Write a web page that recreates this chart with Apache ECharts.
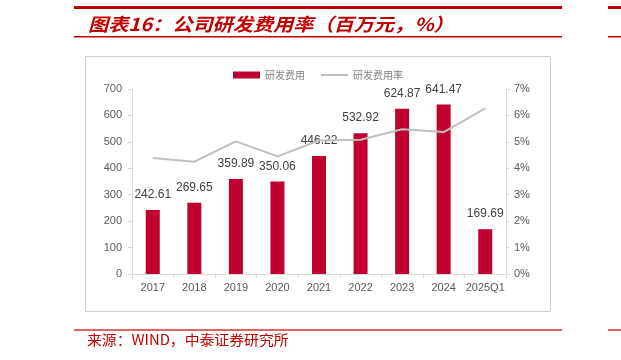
<!DOCTYPE html>
<html><head><meta charset="utf-8">
<script src="https://cdn.jsdelivr.net/npm/echarts@6/dist/echarts.min.js"></script>
<style>html,body{margin:0;padding:0;background:#fff}#c{width:621px;height:360px}</style>
</head><body><div id="c"></div>
<script>
const categories = ['2017','2018','2019','2020','2021','2022','2023','2024','2025Q1'];
const rdExpense = [242.61, 269.65, 359.89, 350.06, 446.22, 532.92, 624.87, 641.47, 169.69];
const rdRate = [4.39, 4.25, 5.02, 4.45, 5.05, 5.08, 5.48, 5.37, 6.27];
const leftTicks = [0, 700, 100];
const rightTicks = [0, 7, 1];
const titleText = '图表16：公司研发费用率（百万元，%）';
const sourceText = '来源：WIND，中泰证券研究所';

const chart = echarts.init(document.getElementById('c'), null, {renderer:'canvas'});
const red = '#C00000';
const axisLabel = {color:'#595959', fontSize:11, fontFamily:'Liberation Sans, Arial'};
chart.setOption({
  animation:false,
  backgroundColor:'#fff',
  grid:{left:132, right:115, top:89, bottom:86},
  legend:{
    left:228, top:65, itemGap:16, itemWidth:27, itemHeight:7,
    textStyle:{color:'#7f7f7f', fontSize:10, fontFamily:'Noto Sans CJK SC'},
    data:[{name:'研发费用', icon:'rect'}, {name:'研发费用率', icon:'path://M0,0L27,0L27,2L0,2Z'}]
  },
  xAxis:{
    type:'category', data:categories,
    axisLine:{lineStyle:{color:'#d9d9d9'}},
    axisTick:{show:true, length:4, lineStyle:{color:'#d9d9d9'}},
    axisLabel:Object.assign({margin:8, interval:0}, axisLabel)
  },
  yAxis:[{
    type:'value', min:leftTicks[0], max:leftTicks[1], interval:leftTicks[2],
    splitLine:{show:false},
    axisLine:{show:true, lineStyle:{color:'#d9d9d9'}},
    axisTick:{show:true, length:4, lineStyle:{color:'#d9d9d9'}},
    axisLabel:Object.assign({margin:10}, axisLabel)
  },{
    type:'value', min:rightTicks[0], max:rightTicks[1], interval:rightTicks[2],
    splitLine:{show:false},
    axisLine:{show:true, lineStyle:{color:'#d9d9d9'}},
    axisTick:{show:true, length:4, lineStyle:{color:'#d9d9d9'}},
    axisLabel:Object.assign({margin:8, formatter:'{value}%'}, axisLabel)
  }],
  series:[{
    name:'研发费用', type:'bar', data:rdExpense, barWidth:14,
    itemStyle:{color:'#C0002F'},
    label:{show:true, position:'top', distance:9, color:'#404040', fontSize:12, fontFamily:'Liberation Sans, Arial'}
  },{
    name:'研发费用率', type:'line', yAxisIndex:1, data:rdRate,
    symbol:'none', lineStyle:{color:'#BFBFBF', width:2}, itemStyle:{color:'#BFBFBF'}, z:5
  }],
  graphic:[
    {type:'rect', shape:{x:85.5,y:56.5,width:465,height:255}, style:{fill:'none', stroke:'#d0d0d0', lineWidth:1}, z:-1},
    {type:'rect', shape:{x:74,y:6,width:488,height:3}, style:{fill:red}},
    {type:'rect', shape:{x:74,y:36,width:488,height:1.5}, style:{fill:red}},
    {type:'rect', shape:{x:608,y:6,width:13,height:3}, style:{fill:red}},
    {type:'rect', shape:{x:608,y:36,width:13,height:1.5}, style:{fill:red}},
    {type:'text', x:88, y:24, scaleX:1.12, style:{text:titleText, fill:red, verticalAlign:'middle', font:'italic bold 18px "Noto Sans CJK SC"'}},
    {type:'rect', shape:{x:74,y:329,width:488,height:2}, style:{fill:'#E06666'}},
    {type:'rect', shape:{x:608,y:329,width:13,height:2}, style:{fill:'#E06666'}},
    {type:'text', x:87, y:340, scaleX:1.06, style:{text:sourceText, fill:red, verticalAlign:'middle', font:'14px "Noto Sans CJK SC"'}}
  ]
});
</script></body></html>
